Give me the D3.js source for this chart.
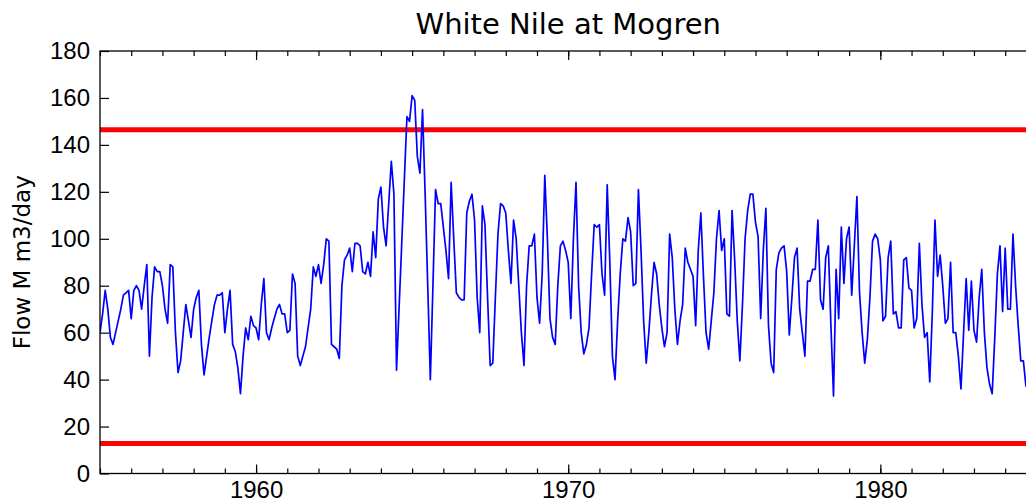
<!DOCTYPE html>
<html>
<head>
<meta charset="utf-8">
<script src="https://cdn.jsdelivr.net/npm/d3@7"></script>
<style>
  body { margin: 0; background: #fff; }
  svg { display: block; font-family: 'DejaVu Sans', sans-serif; }
  .axis text { font-size: 24px; fill: #000; }
  .axis line { stroke: #000; stroke-width: 1.2px; }
</style>
</head>
<body>
<svg id="chart" width="1026" height="502"></svg>
<script>
var startYear = 1955

// monthly flow, one row per year, from Jan 1955
var flow = [
  60, 68, 78, 70, 58, 55, 60, 65, 70, 76, 77, 78,
  66, 78, 80, 78, 70, 80, 89, 50, 75, 88, 86, 86,
  80, 70, 64, 89, 88, 60, 43, 48, 60, 72, 65, 58,
  70, 75, 78, 55, 42, 50, 58, 65, 72, 76, 76, 77,
  60, 70, 78, 55, 52, 45, 34, 50, 62, 57, 67, 63,
  62, 57, 72, 83, 60, 57, 62, 66, 70, 72, 68, 68,
  60, 61, 85, 81, 50, 46, 50, 54, 62, 70, 88, 84,
  89, 81, 89, 100, 99, 55, 54, 53, 49, 80, 91, 93,
  96, 86, 98, 98, 97, 86, 85, 90, 84, 103, 92, 117,
  122, 105, 97, 115, 133, 119, 44, 71, 98, 125, 152, 150,
  161, 159, 135, 128, 155, 119, 80, 40, 80, 121, 115, 115,
  105, 95, 83, 124, 100, 77, 75, 74, 74, 111, 116, 119,
  108, 75, 60, 114, 106, 75, 46, 47, 75, 102, 115, 114,
  111, 95, 81, 108, 100, 80, 60, 46, 80, 97, 97, 102,
  75, 64, 85, 127, 100, 66, 58, 55, 80, 97, 99, 95,
  90, 66, 100, 124, 80, 60, 51, 55, 62, 85, 106, 105,
  106, 85, 76, 123, 90, 50, 40, 65, 85, 100, 99, 109,
  103, 80, 81, 121, 95, 65, 47, 60, 76, 90, 85, 72,
  62, 54, 60, 102, 92, 70, 55, 65, 72, 96, 90, 87,
  84, 63, 95, 111, 84, 60, 53, 65, 77, 100, 112, 95,
  100, 68, 67, 112, 91, 65, 48, 72, 100, 112, 119, 119,
  107, 101, 66, 95, 113, 63, 47, 43, 87, 94, 96, 97,
  86, 59, 75, 92, 96, 70, 60, 50, 82, 82, 87, 87,
  108, 74, 70, 92, 97, 63, 33, 87, 66, 105, 81, 100,
  105, 76, 97, 118, 77, 60, 47, 57, 75, 99, 102, 100,
  91, 65, 67, 92, 99, 68, 69, 62, 62, 91, 92, 79,
  78, 62, 66, 98, 72, 58, 60, 39, 69, 108, 84, 93,
  80, 64, 66, 90, 60, 60, 50, 36, 60, 83, 61, 82,
  61, 56, 75, 87, 60, 45, 38, 34, 58, 85, 97, 69,
  96, 70, 70, 102, 80, 63, 48, 48, 37
]

var limits = [146.5, 12.8]
var xMajorTicks = [1960, 1970, 1980]
var xMinorTicks = d3.range(1955, 1986)
var yTicks = [0, 20, 40, 60, 80, 100, 120, 140, 160, 180]

var svg = d3.select('#chart')

var margin = { top: 51, left: 100 }
var width = 936.4
var height = 422.5

var x = d3.scaleLinear().domain([1955, 1985]).range([0, width])
var y = d3.scaleLinear().domain([0, 180]).range([height, 0])

var g = svg.append('g')
  .attr('transform', 'translate(' + margin.left + ',' + margin.top + ')')

g.append('clipPath').attr('id', 'plot-clip')
  .append('rect').attr('width', width).attr('height', height)

var plot = g.append('g').attr('clip-path', 'url(#plot-clip)')

plot.selectAll('.limit')
  .data(limits)
  .enter()
  .append('line')
  .attr('class', 'limit')
  .attr('x1', 0)
  .attr('x2', width)
  .attr('y1', function (d) { return y(d) })
  .attr('y2', function (d) { return y(d) })
  .attr('stroke', '#ff0000')
  .attr('stroke-width', 5)

var line = d3.line()
  .x(function (d, i) { return x(startYear + i / 12) })
  .y(function (d) { return y(d) })

plot.append('path')
  .datum(flow)
  .attr('fill', 'none')
  .attr('stroke', '#0000ff')
  .attr('stroke-width', 1.7)
  .attr('stroke-linejoin', 'round')
  .attr('d', line)

// minor ticks (no labels)
g.append('g')
  .attr('class', 'axis')
  .attr('transform', 'translate(0,' + height + ')')
  .call(d3.axisBottom(x).tickValues(xMinorTicks).tickSize(-5).tickFormat(''))
g.append('g')
  .attr('class', 'axis')
  .call(d3.axisTop(x).tickValues(xMinorTicks).tickSize(-5).tickFormat(''))

g.append('g')
  .attr('class', 'axis')
  .attr('transform', 'translate(0,' + height + ')')
  .call(d3.axisBottom(x).tickValues(xMajorTicks).tickSize(-9).tickPadding(7).tickFormat(d3.format('d')))
g.append('g')
  .attr('class', 'axis')
  .call(d3.axisTop(x).tickValues(xMajorTicks).tickSize(-9).tickFormat(''))

g.append('g')
  .attr('class', 'axis')
  .call(d3.axisLeft(y).tickValues(yTicks).tickSize(-9).tickPadding(10))
g.append('g')
  .attr('class', 'axis')
  .attr('transform', 'translate(' + width + ',0)')
  .call(d3.axisRight(y).tickValues(yTicks).tickSize(-9).tickFormat(''))

g.selectAll('.axis .domain').remove()

g.append('rect')
  .attr('width', width)
  .attr('height', height)
  .attr('fill', 'none')
  .attr('stroke', '#000')
  .attr('stroke-width', 1.3)

svg.append('text')
  .attr('x', margin.left + width / 2)
  .attr('y', 34)
  .attr('text-anchor', 'middle')
  .style('font-size', '29px')
  .text('White Nile at Mogren')

svg.append('text')
  .attr('transform', 'translate(30,' + (margin.top + height / 2) + ') rotate(-90)')
  .attr('text-anchor', 'middle')
  .style('font-size', '23px')
  .text('Flow M m3/day')
</script>
</body>
</html>
